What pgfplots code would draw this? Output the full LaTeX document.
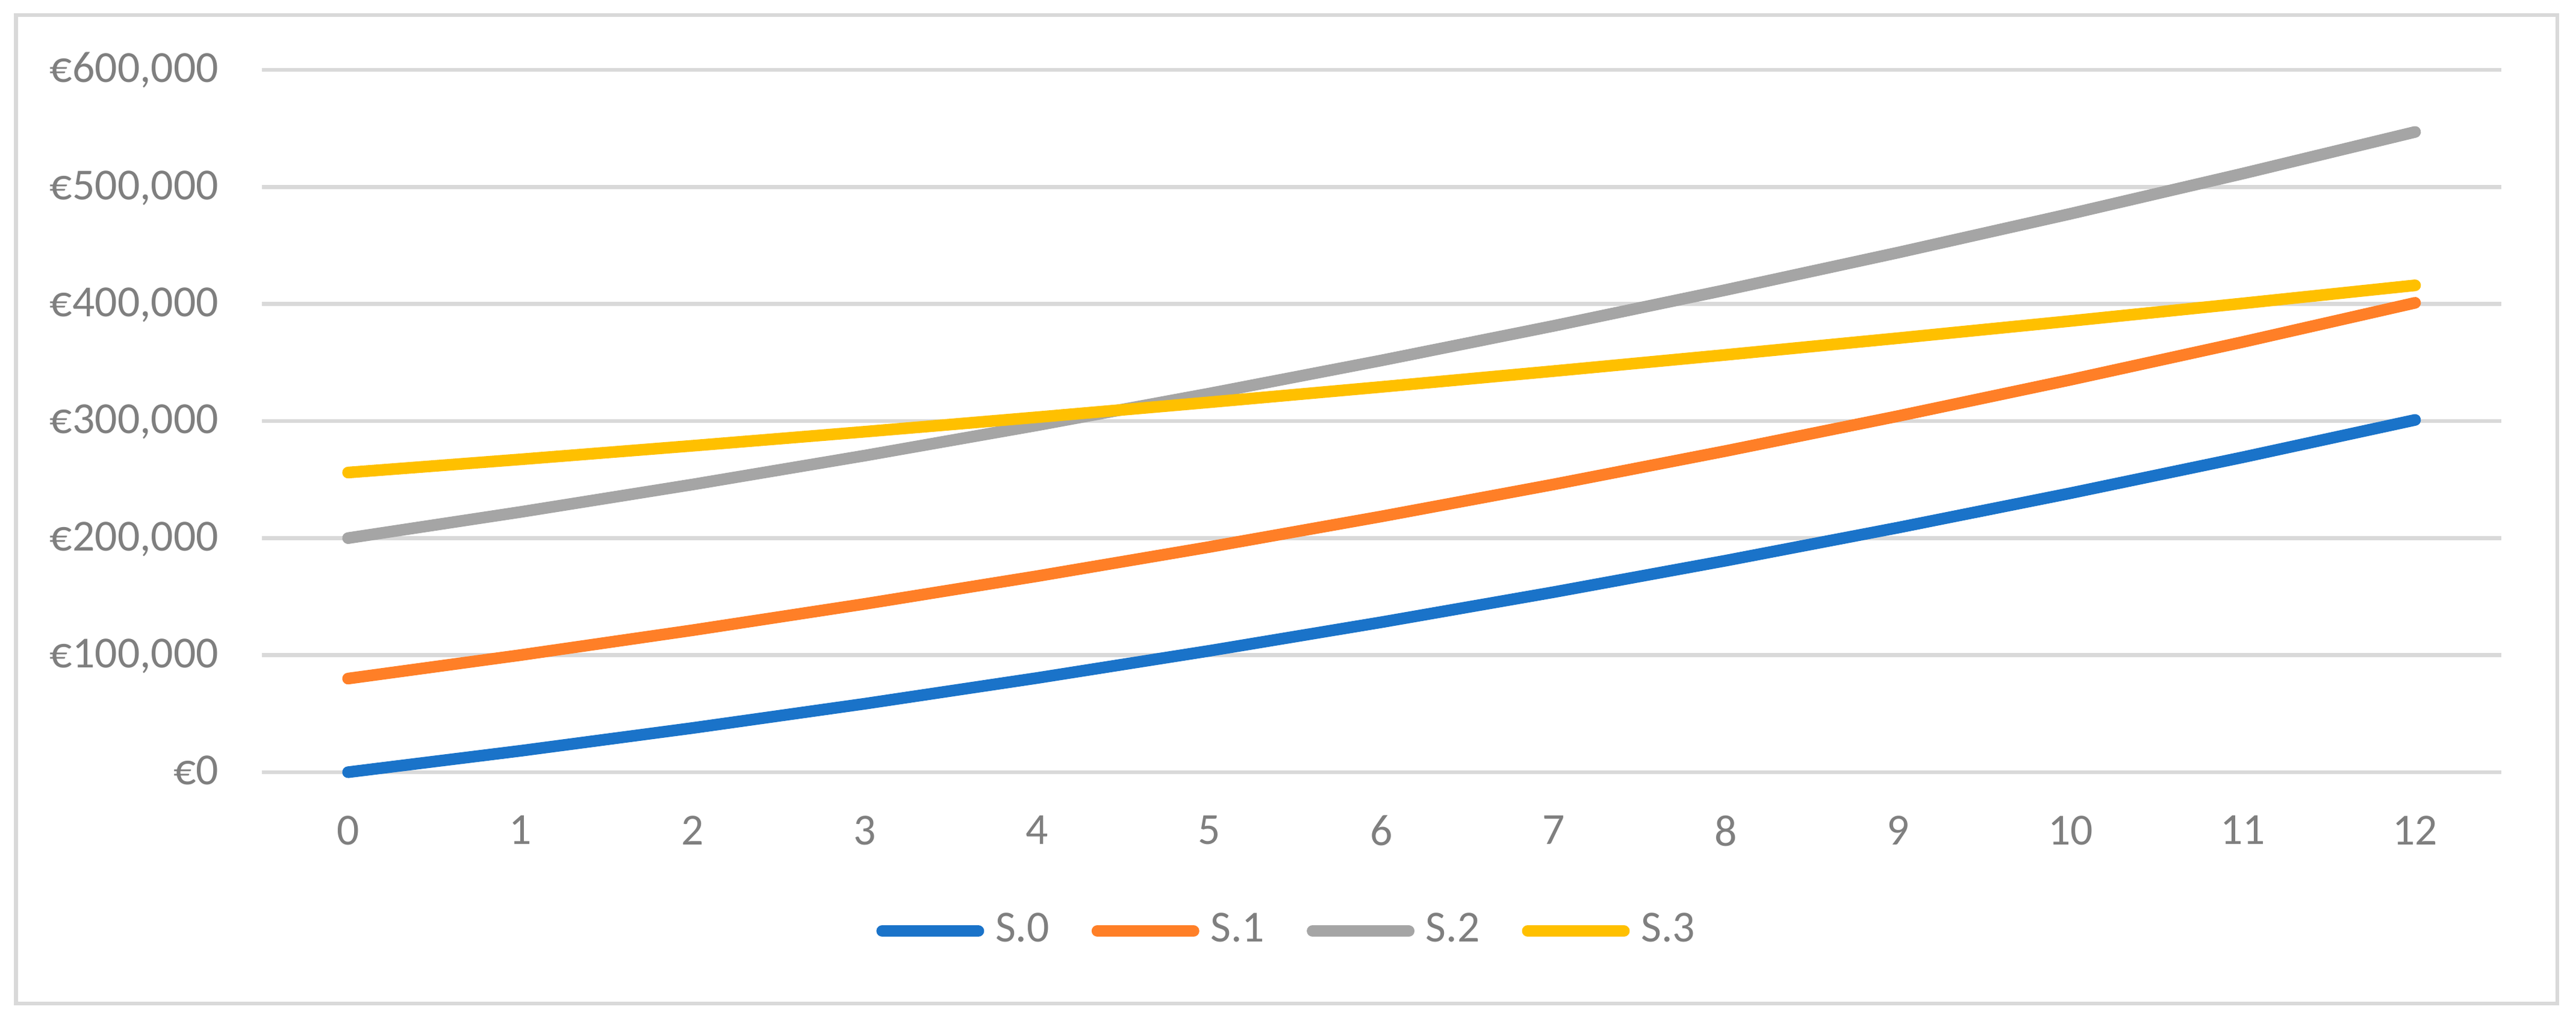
\documentclass[border=0pt]{standalone}
\usepackage{fontspec}
\setmainfont{Carlito}
\usepackage{pgfplots}
\pgfplotsset{compat=1.18}
\definecolor{sblue}{HTML}{1A73C9}
\definecolor{sorange}{HTML}{FF7F27}
\definecolor{sgray}{HTML}{A5A5A5}
\definecolor{syellow}{HTML}{FFC000}
\definecolor{gridc}{HTML}{D9D9D9}
\definecolor{tickc}{HTML}{7F7F7F}
\newcommand{\chartfont}{\fontsize{9.7}{11.6}\selectfont}
\begin{document}
\begin{tikzpicture}[font=\chartfont]
\path[use as bounding box] (0,0) rectangle (563pt,223.72pt);
\draw[gridc, line width=0.86pt] (3.51pt,4.47pt) rectangle (558.9pt,220.4pt);
\begin{axis}[
  at={(57.25pt,55.0pt)}, anchor=south west,
  width=489.4pt, height=153.45pt, scale only axis,
  xmin=-0.5, xmax=12.5, ymin=0, ymax=600000,
  clip=false,
  scaled y ticks=false, scaled x ticks=false,
  axis line style={draw=none},
  major tick length=0pt,
  xtick={0,1,2,3,4,5,6,7,8,9,10,11,12},
  xticklabels={0,1,2,3,4,5,6,7,8,9,10,11,12},
  ytick={0,100000,200000,300000,400000,500000,600000},
  yticklabels={{€0},{€100,000},{€200,000},{€300,000},{€400,000},{€500,000},{€600,000}},
  /pgf/number format/assume math mode=true,
  ymajorgrids,
  grid style={gridc, line width=0.86pt},
  tick label style={text=tickc, font=\chartfont},
  yticklabel style={anchor=base east, inner sep=0pt, xshift=-9.3pt, yshift=-2.75pt},
  xticklabel style={anchor=north, inner sep=0pt, yshift=-9.3pt},
  legend columns=4,
  legend image code/.code={\draw[#1, line width=2.55pt, line cap=round] (0pt,0pt) -- (21pt,0pt);},
  legend style={draw=none, fill=none, at={(0.4572,-0.2261)}, anchor=center,
    inner sep=0pt, outer sep=0pt, font=\chartfont, text=tickc,
    nodes={inner sep=0pt},
    /tikz/every odd column/.append style={column sep=2.46pt},
    /tikz/every even column/.append style={column sep=9.2pt}},
  every axis plot/.append style={line width=2.55pt, line cap=round, line join=round, mark=none},
]
\addplot[sblue] coordinates {(0,0) (1,18260) (2,37760) (3,58500) (4,80480) (5,103700) (6,128160) (7,153860) (8,180800) (9,208980) (10,238400) (11,269060) (12,300960)};
\addlegendentry{S.0}
\addplot[sorange] coordinates {(0,80000) (1,100040) (2,121300) (3,143780) (4,167480) (5,192400) (6,218540) (7,245900) (8,274480) (9,304280) (10,335300) (11,367540) (12,401000)};
\addlegendentry{S.1}
\addplot[sgray] coordinates {(0,200000) (1,222290) (2,245790) (3,270490) (4,296390) (5,323500) (6,351810) (7,381330) (8,412050) (9,443970) (10,477100) (11,511430) (12,546980)};
\addlegendentry{S.2}
\addplot[syellow] coordinates {(0,256000) (1,267250) (2,278880) (3,290880) (4,303260) (5,316030) (6,329170) (7,342690) (8,356580) (9,370850) (10,385500) (11,400530) (12,415940)};
\addlegendentry{S.3}
\end{axis}
\end{tikzpicture}
\end{document}
